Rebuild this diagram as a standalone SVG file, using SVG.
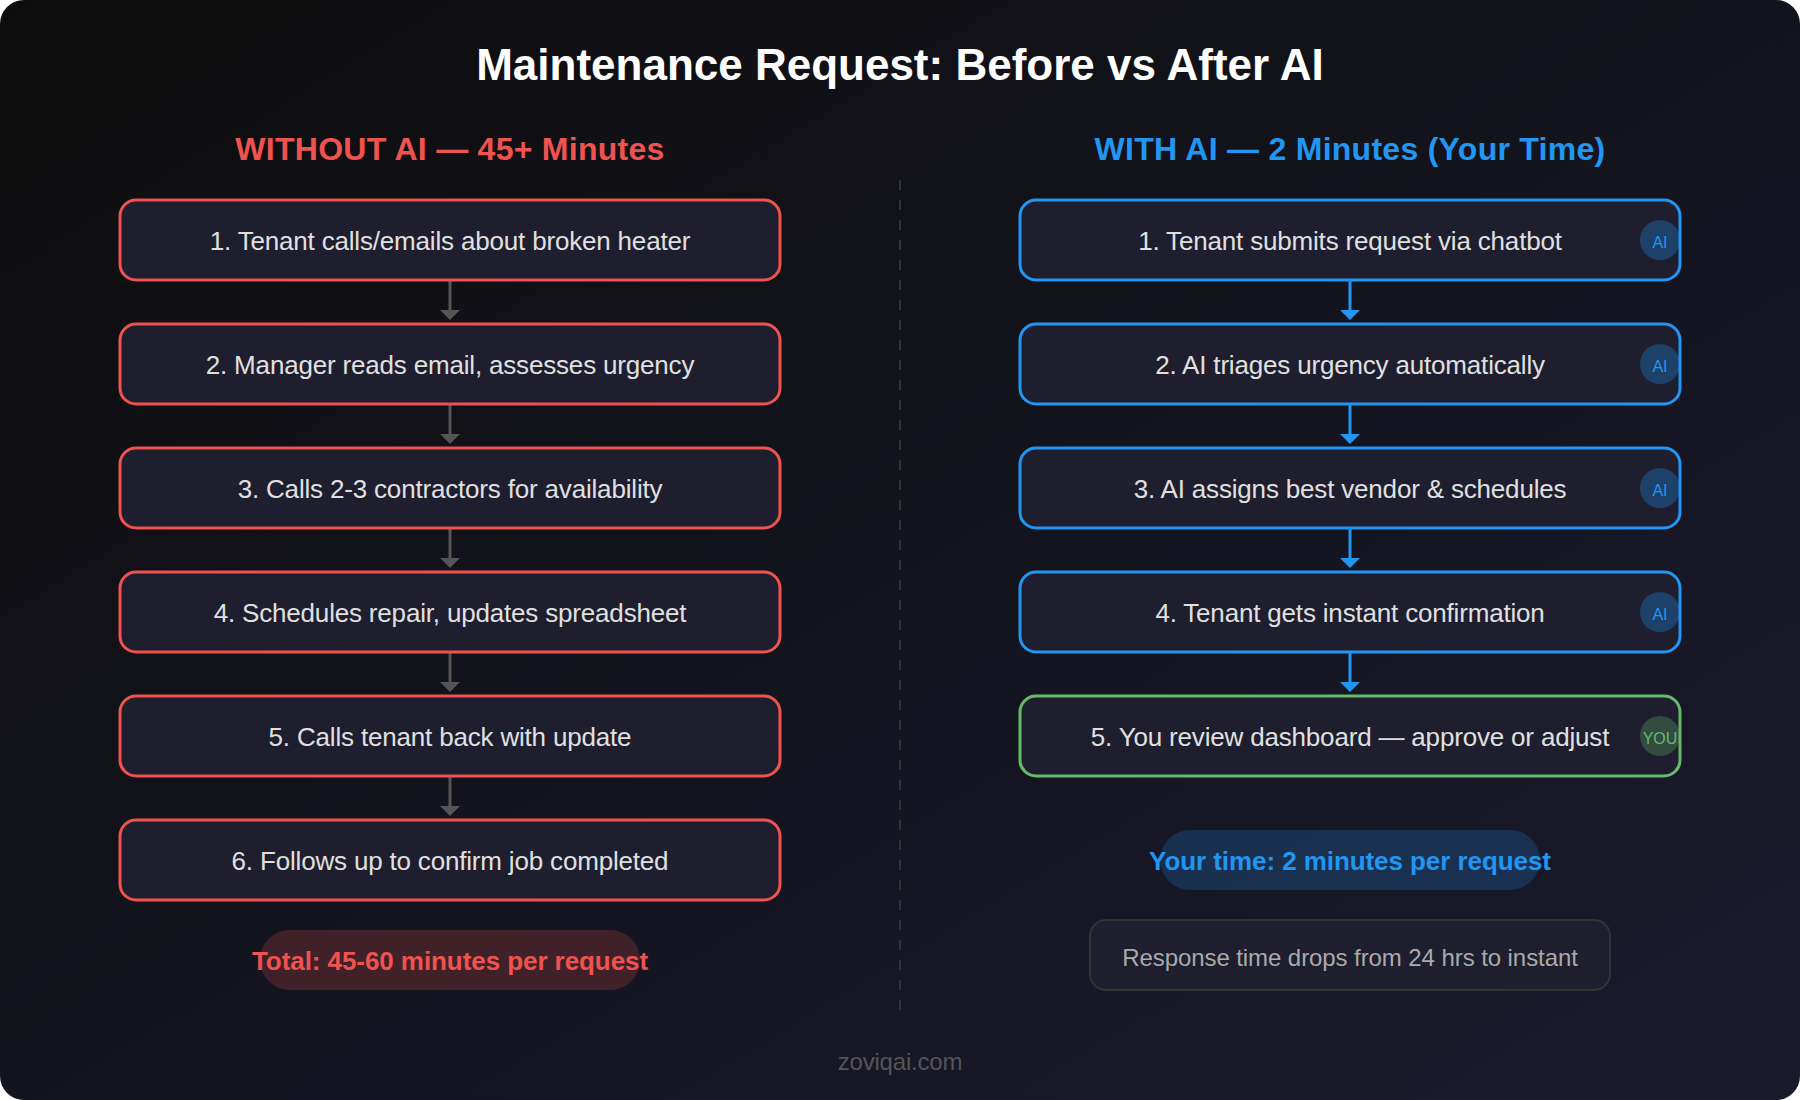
<svg xmlns="http://www.w3.org/2000/svg" width="1800" height="1100" viewBox="0 0 1800 1100">
<defs>
<linearGradient id="bg" x1="0" y1="0" x2="1" y2="1"><stop offset="0" stop-color="#0d0d0d"/><stop offset="1" stop-color="#1a1a2e"/></linearGradient>
<marker id="ab" markerUnits="userSpaceOnUse" markerWidth="20" markerHeight="20" refX="0" refY="10" orient="auto"><path d="M0,0L10,10L0,20Z" fill="#2196f3"/></marker>
<marker id="agr" markerUnits="userSpaceOnUse" markerWidth="20" markerHeight="20" refX="0" refY="10" orient="auto"><path d="M0,0L10,10L0,20Z" fill="#555"/></marker>
</defs>
<style>
text{font-family:"Liberation Sans",Arial,sans-serif;text-anchor:middle}
.box{fill:#1e1e2e;stroke-width:3}
.r{stroke:#ef5350}.b{stroke:#2196f3}.g{stroke:#66bb6a}
.t{font-size:26px;fill:#e0e0e0;letter-spacing:-.18px}
.h{font-size:32px;font-weight:700;letter-spacing:.27px}
.p{font-size:26px;font-weight:700;letter-spacing:-.07px}
.bad{font-size:16px}
.cg{stroke:#555;stroke-width:3;fill:none;marker-end:url(#agr)}
.cb{stroke:#2196f3;stroke-width:3;fill:none;marker-end:url(#ab)}
</style>
<rect width="1800" height="1100" rx="24" fill="url(#bg)"/>
<text x="900" y="80" font-size="44" font-weight="700" fill="#fff">Maintenance Request: Before vs After AI</text>
<text class="h" x="450" y="160" fill="#ef5350">WITHOUT AI — 45+ Minutes</text>
<text class="h" x="1350" y="160" fill="#2196f3">WITH AI — 2 Minutes (Your Time)</text>
<line id="divider" x1="900" y1="180" x2="900" y2="1010" stroke="#333" stroke-width="2" stroke-dasharray="10 10"/>
<g id="connectors">
<path class="cg" d="M450 280V310"/><path class="cg" d="M450 404V434"/><path class="cg" d="M450 528V558"/><path class="cg" d="M450 652V682"/><path class="cg" d="M450 776V806"/>
<path class="cb" d="M1350 280V310"/><path class="cb" d="M1350 404V434"/><path class="cb" d="M1350 528V558"/><path class="cb" d="M1350 652V682"/>
</g>
<g id="l1"><rect class="box r" x="120" y="200" width="660" height="80" rx="16"/><text class="t" x="450" y="250">1. Tenant calls/emails about broken heater</text></g>
<g id="l2"><rect class="box r" x="120" y="324" width="660" height="80" rx="16"/><text class="t" x="450" y="374">2. Manager reads email, assesses urgency</text></g>
<g id="l3"><rect class="box r" x="120" y="448" width="660" height="80" rx="16"/><text class="t" x="450" y="498">3. Calls 2-3 contractors for availability</text></g>
<g id="l4"><rect class="box r" x="120" y="572" width="660" height="80" rx="16"/><text class="t" x="450" y="622">4. Schedules repair, updates spreadsheet</text></g>
<g id="l5"><rect class="box r" x="120" y="696" width="660" height="80" rx="16"/><text class="t" x="450" y="746">5. Calls tenant back with update</text></g>
<g id="l6"><rect class="box r" x="120" y="820" width="660" height="80" rx="16"/><text class="t" x="450" y="870">6. Follows up to confirm job completed</text></g>
<g id="r1"><rect class="box b" x="1020" y="200" width="660" height="80" rx="16"/><text class="t" x="1350" y="250">1. Tenant submits request via chatbot</text><circle cx="1660" cy="240" r="20" fill="#2196f3" fill-opacity=".3"/><text class="bad" x="1660" y="248" fill="#2196f3">AI</text></g>
<g id="r2"><rect class="box b" x="1020" y="324" width="660" height="80" rx="16"/><text class="t" x="1350" y="374">2. AI triages urgency automatically</text><circle cx="1660" cy="364" r="20" fill="#2196f3" fill-opacity=".3"/><text class="bad" x="1660" y="372" fill="#2196f3">AI</text></g>
<g id="r3"><rect class="box b" x="1020" y="448" width="660" height="80" rx="16"/><text class="t" x="1350" y="498">3. AI assigns best vendor &amp; schedules</text><circle cx="1660" cy="488" r="20" fill="#2196f3" fill-opacity=".3"/><text class="bad" x="1660" y="496" fill="#2196f3">AI</text></g>
<g id="r4"><rect class="box b" x="1020" y="572" width="660" height="80" rx="16"/><text class="t" x="1350" y="622">4. Tenant gets instant confirmation</text><circle cx="1660" cy="612" r="20" fill="#2196f3" fill-opacity=".3"/><text class="bad" x="1660" y="620" fill="#2196f3">AI</text></g>
<g id="r5"><rect class="box g" x="1020" y="696" width="660" height="80" rx="16"/><text class="t" x="1350" y="746">5. You review dashboard — approve or adjust</text><circle cx="1660" cy="736" r="20" fill="#66bb6a" fill-opacity=".3"/><text class="bad" x="1660" y="744" fill="#66bb6a">YOU</text></g>
<g id="total"><rect x="260" y="930" width="380" height="60" rx="30" fill="#ef5350" fill-opacity=".2"/><text class="p" x="450" y="970" fill="#ef5350">Total: 45-60 minutes per request</text></g>
<g id="yourtime"><rect x="1160" y="830" width="380" height="60" rx="30" fill="#2196f3" fill-opacity=".2"/><text class="p" x="1350" y="870" fill="#2196f3">Your time: 2 minutes per request</text></g>
<g id="resp"><rect x="1090" y="920" width="520" height="70" rx="16" fill="#1e1e2e" stroke="#333" stroke-width="2"/><text x="1350" y="966" font-size="24" letter-spacing="-.08" fill="#aaa">Response time drops from 24 hrs to instant</text></g>
<text x="900" y="1070" font-size="24" letter-spacing="-.2" fill="#555">zoviqai.com</text>
</svg>
